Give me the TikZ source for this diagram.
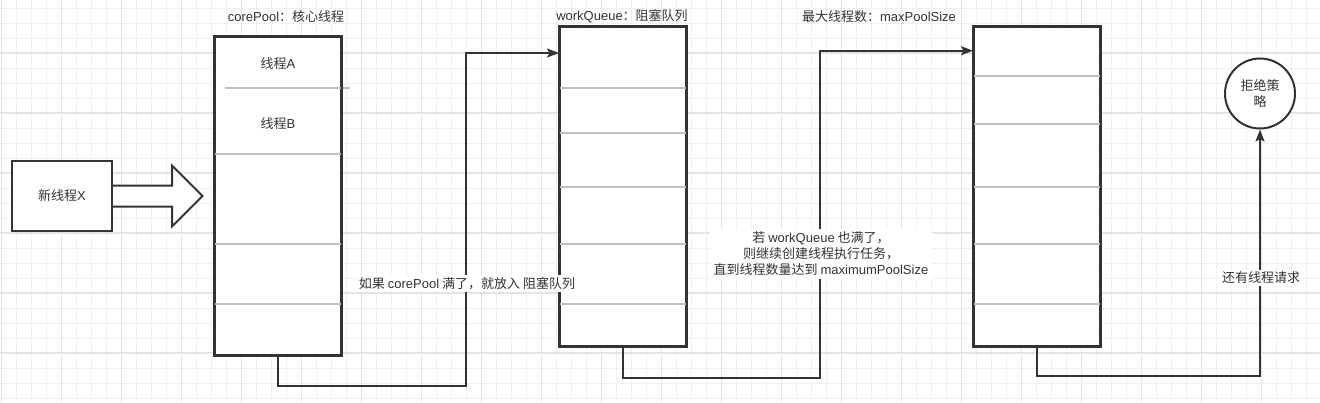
\documentclass[tikz,border=0pt]{standalone}
\usepackage{fontspec}
\newfontfamily\cjk{Noto Sans CJK SC}
\newfontfamily\lat{Liberation Sans}
\newcommand{\La}[1]{{\lat #1}}
\usetikzlibrary{arrows.meta}
\definecolor{ink}{HTML}{333333}
\definecolor{divc}{HTML}{C0C0C0}
\definecolor{gridminor}{HTML}{F0F0F0}
\definecolor{gridmajor}{HTML}{E4E4E4}
\tikzset{
  txt/.style={font=\cjk\fontsize{13}{16}\selectfont, text=ink, inner sep=0pt},
  boxc/.style={draw=ink, line width=2pt, fill=white, inner sep=0pt},
  divline/.style={draw=divc, line width=1.6pt},
  conn/.style={draw=ink, line width=2pt, -{Stealth[length=12pt,width=9pt,inset=2.5pt]}},
  lbl/.style={txt, fill=white, inner sep=2pt, align=center}
}
\begin{document}
\begin{tikzpicture}[x=1pt,y=-1pt]
\useasboundingbox (0,0) rectangle (1320,402);
\fill[white] (0,0) rectangle (1320,402);
% grid
\foreach \i in {0,...,88} {\draw[gridminor, line width=1pt] (1.7+15*\i,0) -- (1.7+15*\i,402);}
\foreach \j in {0,...,26} {\draw[gridminor, line width=1pt] (0,8+15*\j) -- (1320,8+15*\j);}
\foreach \i in {0,...,22} {\draw[gridmajor, line width=1.2pt] (1.7+60*\i,0) -- (1.7+60*\i,402);}
\foreach \j in {0,...,6} {\draw[gridmajor, line width=1.2pt] (0,-7+60*\j) -- (1320,-7+60*\j);}

% titles
\node[txt] (t1) at (286,17) {\La{corePool}：核心线程};
\node[txt] (t2) at (622,16.5) {\La{workQueue}：阻塞队列};
\node[txt] (t3) at (879,16.5) {最大线程数：\La{maxPoolSize}};

% new thread box
\node[boxc, minimum width=100pt, minimum height=70pt] (newx) at (62,195.7) {};
\node[txt] (newxt) at (newx) {新线程\La{X}};
% block arrow
\draw[ink, line width=2pt, fill=white, line join=miter]
  (newx.east |- 0,185.7) -- (172,185.7) -- (172,165.5) -- (202.5,196) -- (172,226.5) -- (172,206.7) -- (newx.east |- 0,206.7);

% core pool box
\node[boxc, minimum width=126pt, minimum height=318.3pt] (core) at (278,195.85) {};
\draw[divline] (224.7,87.7) -- (350,87.7);
\foreach \y in {154,243.7,303.7} {\draw[divline] (core.west |- 0,\y) -- (core.east |- 0,\y);}
\draw[ink, line width=2pt] (core.north west) rectangle (core.south east);
\node[txt] (ta) at (278,64) {线程\La{A}};
\node[txt] (tb) at (278,124) {线程\La{B}};

% work queue box
\node[boxc, minimum width=126pt, minimum height=319pt] (wq) at (623,186.2) {};
\foreach \y in {87.7,132.7,186.7,243.7,303.7} {\draw[divline] (wq.west |- 0,\y) -- (wq.east |- 0,\y);}
\draw[ink, line width=2pt] (wq.north west) rectangle (wq.south east);

% max pool box
\node[boxc, minimum width=126pt, minimum height=319pt] (mp) at (1037,186.2) {};
\foreach \y in {76,124,186.7,243.7,303.7} {\draw[divline] (mp.west |- 0,\y) -- (mp.east |- 0,\y);}
\draw[ink, line width=2pt] (mp.north west) rectangle (mp.south east);

% reject circle
\node[circle, draw=ink, line width=2pt, fill=white, minimum size=70pt, inner sep=0pt] (rej) at (1260,93.5) {};
\node[txt, align=center] (rejt) at (rej) {拒绝策\\略};

% connectors
\coordinate (k1a) at (466,385.7);
\coordinate (k1b) at (466,53);
\draw[conn] (core.south) |- (k1a) -- (k1b) -- (k1b -| wq.west);
\coordinate (k2a) at (820,377.7);
\coordinate (k2b) at (820,50.7);
\draw[conn] (wq.south) |- (k2a) -- (k2b) -- (k2b -| mp.west);
\coordinate (k3a) at (1260,375.5);
\draw[conn] (mp.south) |- (k3a) -- (rej.south);

% labels
\node[lbl] (l1) at (467,283.5) {如果 \La{corePool} 满了，就放入 阻塞队列};
\node[lbl, inner xsep=4pt, inner ysep=3pt] (l2) at (821,254) {若 \La{workQueue} 也满了，\\则继续创建线程执行任务，\\直到线程数量达到 \La{maximumPoolSize}};
\node[lbl] (l3) at (1261,277.7) {还有线程请求};
\end{tikzpicture}
\end{document}
